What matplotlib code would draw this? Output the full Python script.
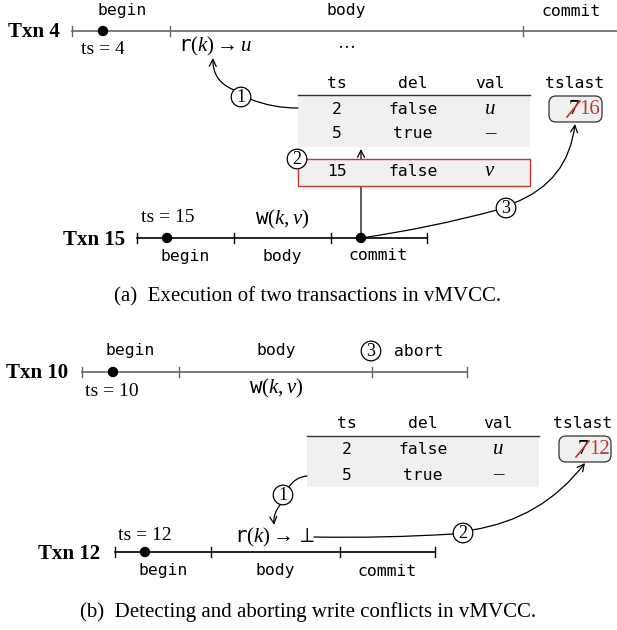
import matplotlib
matplotlib.use("Agg")
import matplotlib.pyplot as plt
from matplotlib.patches import Circle, Rectangle, FancyBboxPatch, FancyArrowPatch

plt.rcParams['mathtext.fontset'] = 'custom'
plt.rcParams['mathtext.rm'] = 'Liberation Serif'
plt.rcParams['mathtext.it'] = 'Liberation Serif:italic'
plt.rcParams['mathtext.tt'] = 'DejaVu Sans Mono'
plt.rcParams['mathtext.fallback'] = 'stix'

# ---------------- data ----------------
txn_names = ["Txn 4", "Txn 15", "Txn 10", "Txn 12"]
txn_ts = [4, 15, 10, 12]
phases = ["begin", "body", "commit"]
abort_label = "abort"
ops = [r"$\mathtt{r}(k) \rightarrow u$", r"$\mathtt{w}(k, v)$",
       r"$\mathtt{w}(k, v)$", r"$\mathtt{r}(k) \rightarrow \perp$"]
ellipsis = "…"
table_cols = ["ts", "del", "val"]
rows_old = [["2", "false", "$u$"], ["5", "true", "–"]]
row_new = ["15", "false", "$v$"]
tslast_col = "tslast"
tslast_old = "7"
tslast_new = ["16", "12"]
steps = ["1", "2", "3"]
captions = ["(a)  Execution of two transactions in vMVCC.",
            "(b)  Detecting and aborting write conflicts in vMVCC."]

RED = "#c0392b"
GRAYF = "#f0f0f0"
MONO = "DejaVu Sans Mono"
SERIF = "Liberation Serif"
MS = 11.8   # mono size
SS = 14     # serif size

fig = plt.figure(figsize=(6.17, 6.30), dpi=100)
ax = fig.add_axes([0, 0, 1, 1])
ax.set_xlim(0, 617)
ax.set_ylim(630, 0)
ax.axis("off")


def timeline(y, ticks, xend, color, dots, lw=1.2):
    ax.plot([ticks[0], xend], [y, y], color=color, lw=lw, zorder=2)
    for t in ticks:
        ax.plot([t, t], [y - 5, y + 5], color=color, lw=1.0, zorder=2)
    for d in dots:
        ax.add_patch(Circle((d, y), 4.5, fc="black", ec="black", zorder=4))


def mono(x, y, s, **kw):
    ax.text(x, y, s, family=MONO, fontsize=MS, ha="center", va="center", **kw)


def serif(x, y, s, size=SS, **kw):
    ax.text(x, y, s, family=SERIF, fontsize=size, ha="center", va="center", **kw)


def bold(x, y, s):
    ax.text(x, y, s, family=SERIF, fontsize=15, fontweight="bold", ha="right", va="center")


def step(x, y, s):
    ax.add_patch(Circle((x, y), 9.8, fc="white", ec="black", lw=0.9, zorder=5))
    ax.text(x, y + 0.5, s, family=SERIF, fontsize=13, ha="center", va="center", zorder=6)


def curve(a, b, rad, arrow=False):
    style = "->,head_length=5,head_width=2.5" if arrow else "-"
    ax.add_patch(FancyArrowPatch(a, b, connectionstyle=f"arc3,rad={rad}",
                                 arrowstyle=style, mutation_scale=1, lw=0.9,
                                 color="black", shrinkA=0, shrinkB=0, zorder=3))


def table(x0, x1, yh, yline, ybot, colx, rows_y, tsx, box, old_x, new_x, new_s):
    for cx, c in zip(colx, table_cols):
        mono(cx, yh, c)
    mono(tsx, yh, tslast_col)
    ax.add_patch(Rectangle((x0, yline), x1 - x0, ybot - yline, fc=GRAYF, ec="none", zorder=1))
    ax.plot([x0, x1], [yline, yline], color="#333333", lw=1.0, zorder=2)
    for ry, row in zip(rows_y, rows_old):
        for cx, v in zip(colx, row):
            if v.startswith("$") or v == "–":
                serif(cx, ry, v, size=15)
            else:
                mono(cx, ry, v)
    bx, by, bw, bh = box
    ax.add_patch(FancyBboxPatch((bx, by), bw, bh, boxstyle="round,pad=0,rounding_size=7",
                                fc=GRAYF, ec="#333333", lw=0.9, zorder=2))
    yc = by + bh / 2
    serif(old_x, yc + 0.5, tslast_old, size=15, zorder=3)
    ax.plot([old_x - 7, old_x + 6], [yc + 8, yc - 8], color=RED, lw=1.2, zorder=4)
    serif(new_x, yc + 0.5, new_s, size=15, color=RED, zorder=3)


# ================= (a) =================
bold(60, 32, txn_names[0])
timeline(31, [72, 170, 523], 617, "#666666", [103])
mono(122, 11, phases[0])
mono(346, 11, phases[1])
mono(571, 11, phases[2])
serif(103, 50, f"ts = {txn_ts[0]}")
serif(215, 46, ops[0], size=15)
serif(346, 44, ellipsis, size=13)

table(298, 530, 83, 95, 147, [337, 413, 490], [109, 134], 575,
      (549, 96, 53, 26), 574, 590, tslast_new[0])

# new version row (red box)
ax.add_patch(FancyArrowPatch((361, 238), (361, 149), arrowstyle="->,head_length=5,head_width=2.5",
                             mutation_scale=1, lw=0.9, color="black", shrinkA=0, shrinkB=0, zorder=2))
ax.add_patch(Rectangle((298, 159), 232, 27, fc=GRAYF, ec=RED, lw=1.0, zorder=3))
for cx, v in zip([337, 413, 490], row_new):
    if v.startswith("$"):
        serif(cx, 172, v, size=15, zorder=4)
    else:
        mono(cx, 172, v, zorder=4)

# step 1 curves
curve((298, 108), (250, 99), -0.1)
curve((234, 90), (213, 58), -0.35, arrow=True)
step(241, 97, steps[0])
step(297, 159, steps[1])
# step 3
curve((361, 238), (497, 210), 0.03)
curve((514, 203), (575, 124), 0.3, arrow=True)
step(506, 208, steps[2])

# Txn 15
bold(125, 240, txn_names[1])
timeline(238, [137, 234, 331, 427], 427, "black", [167, 361])
mono(185, 256, phases[0])
mono(282, 256, phases[1])
mono(378, 256, phases[2])
serif(168, 218, f"ts = {txn_ts[1]}")
serif(282, 219, ops[1], size=15)

serif(308, 297, captions[0], size=15)

# ================= (b) =================
bold(68, 373, txn_names[2])
timeline(372, [82, 179, 372, 467], 467, "#666666", [113])
mono(130, 351, phases[0])
mono(276, 351, phases[1])
step(371, 351, steps[2])
mono(419, 351, abort_label)
serif(112, 391, f"ts = {txn_ts[2]}")
serif(276, 388, ops[2], size=15)

table(307, 539, 423, 436, 487, [347, 423, 498], [450, 475], 583,
      (559, 436, 52, 26), 583, 600, tslast_new[1])

curve((307, 476), (289, 487), 0.25)
curve((280, 505), (274, 525), 0.2, arrow=True)
step(283, 495, steps[0])

curve((314, 537), (453, 534), 0.02)
curve((472, 530), (585, 463), 0.2, arrow=True)
step(463, 533, steps[1])

bold(100, 554, txn_names[3])
timeline(552, [115, 211, 340, 435], 435, "black", [145])
mono(163, 571, phases[0])
mono(275, 571, phases[1])
mono(387, 571, phases[2])
serif(145, 536, f"ts = {txn_ts[3]}")
serif(275, 537, ops[3], size=15)

serif(308, 612, captions[1], size=15)

fig.savefig("out.png", dpi=100)
